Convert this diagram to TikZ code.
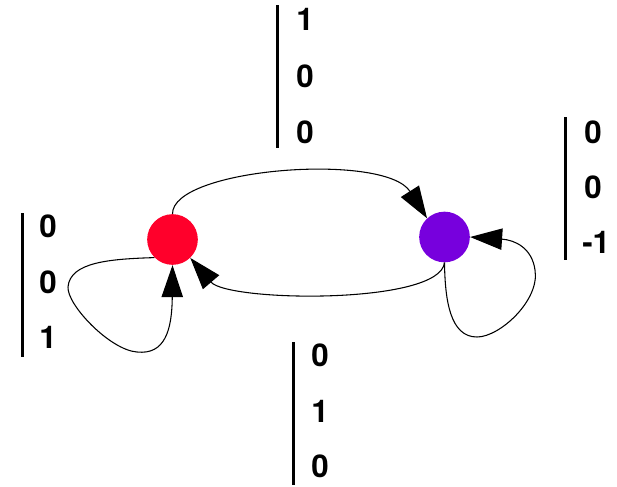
\documentclass[tikz,border=0pt]{standalone}
\usepackage{fontspec}
\setmainfont{TeX Gyre Heros}
\usetikzlibrary{arrows.meta}
\definecolor{nodered}{RGB}{255,0,43}
\definecolor{nodepurple}{RGB}{119,0,221}
\begin{document}
\begin{tikzpicture}[x=0.75pt,y=-0.75pt,
  state/.style={circle,minimum size=38pt,inner sep=0,draw=none},
  edge/.style={line width=0.8pt,-{Triangle[length=24pt,width=16pt]}},
  bar/.style={line width=2.25pt},
  val/.style={anchor=west,inner sep=0,font=\fontsize{23.5}{23.5}\selectfont\bfseries}]
\useasboundingbox (0,0) rectangle (617,486);
% states
\node[state,fill=nodered] (r) at (172.5,239.5) {};
\node[state,fill=nodepurple] (p) at (444.5,237) {};
% edges
\draw[edge] (r.90) .. controls (172,168) and (385,152) .. (p.133);
\draw[edge] (p.270) .. controls (440,305) and (228,302) .. (r.314);
\draw[edge] (r.225) .. controls (110,259) and (70,262) .. (68,287)
  .. controls (67,305) and (110,350) .. (137,352)
  .. controls (165,355) and (172,330) .. (r.270);
\draw[edge] (p.270) .. controls (445,300) and (450,337) .. (477,337)
  .. controls (500,337) and (540,300) .. (535,270)
  .. controls (532,248) and (515,240) .. (p.0);
% top label
\coordinate (t1) at (277,5); \coordinate (t2) at (277,148);
\draw[bar] (t1) -- (t2);
\node[val] (ta) at (296,19) {1};
\node[val] (tb) at (296,76) {0};
\node[val] (tc) at (296,132) {0};
% right label
\coordinate (q1) at (565,117); \coordinate (q2) at (565,260);
\draw[bar] (q1) -- (q2);
\node[val] (qa) at (584,132) {0};
\node[val] (qb) at (584,187) {0};
\node[val] (qc) at (582,242) {-1};
% left label
\coordinate (l1) at (22,213); \coordinate (l2) at (22,357);
\draw[bar] (l1) -- (l2);
\node[val] (la) at (39,226) {0};
\node[val] (lb) at (39,282) {0};
\node[val] (lc) at (39,337) {1};
% bottom label
\coordinate (b1) at (293,342); \coordinate (b2) at (293,485);
\draw[bar] (b1) -- (b2);
\node[val] (ba) at (311,355) {0};
\node[val] (bb) at (311,411) {1};
\node[val] (bc) at (311,466) {0};
\end{tikzpicture}
\end{document}
